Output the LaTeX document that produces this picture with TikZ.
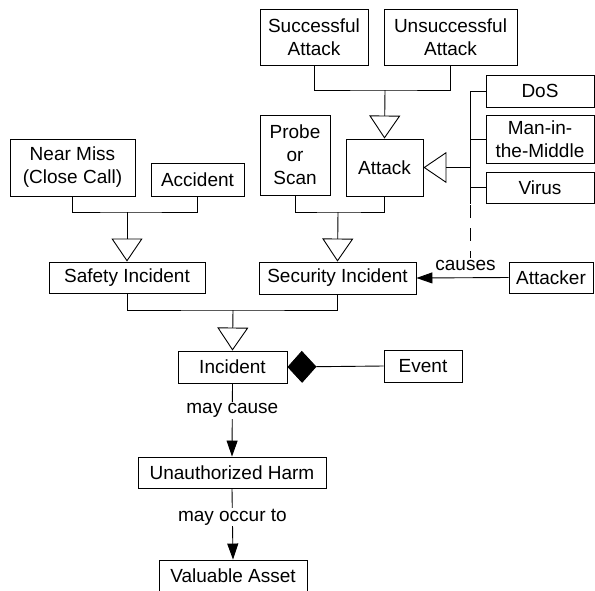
\documentclass[tikz,border=0pt]{standalone}
\usepackage{fontspec}
\setmainfont{Liberation Sans}
\usetikzlibrary{arrows.meta}

\tikzset{
	box/.style={draw, line width=0.9pt, inner sep=0pt, align=center, font=\fontsize{19}{23}\selectfont},
	wire/.style={line width=0.9pt},
	gen/.style={wire, -{Triangle[open, length=23pt, width=31pt, line width=0.9pt]}},
	assoc/.style={wire, -{Triangle[length=16pt, width=11pt]}},
	aggr/.style={wire, -{Diamond[length=29pt, width=32pt]}},
	lbl/.style={fill=white, inner sep=1pt, font=\fontsize{19}{23}\selectfont}
}

\begin{document}
\begin{tikzpicture}[x=1pt, y=-1pt]
			%%%%% START %%%%%
			\useasboundingbox[fill=white] (0, 0) rectangle (595, 590);
			
			% attack kinds
			\node[box, minimum width=108, minimum height=56] (success) at (314, 37) {Successful\\Attack};
			\node[box, minimum width=133, minimum height=56] (unsuccess) at (450.5, 37) {Unsuccessful\\Attack};
			\node[box, minimum width=77, minimum height=57] (attack) at (384.5, 167.5) {Attack};
			\node[box, minimum width=70, minimum height=80] (probe) at (295, 155) {Probe\\or\\Scan};
			
			\node[box, minimum width=108, minimum height=32] (dos) at (540, 91) {DoS};
			\node[box, minimum width=108, minimum height=48] (mitm) at (540, 139) {Man-in-\\the-Middle};
			\node[box, minimum width=108, minimum height=31] (virus) at (540, 187.5) {Virus};
			
			% safety side
			\node[box, minimum width=125, minimum height=57] (nearmiss) at (72.5, 167.5) {Near Miss\\(Close Call)};
			\node[box, minimum width=93, minimum height=33] (accident) at (197.5, 179.5) {Accident};
			
			\node[box, minimum width=156, minimum height=31] (safety) at (127, 277.5) {Safety Incident};
			\node[box, minimum width=157, minimum height=32] (security) at (337.5, 278) {Security Incident};
			\node[box, minimum width=84, minimum height=31] (attacker) at (551, 277.5) {Attacker};
			
			\node[box, minimum width=109, minimum height=32] (incident) at (232.5, 367) {Incident};
			\node[box, minimum width=78, minimum height=32] (event) at (423, 366) {Event};
			\node[box, minimum width=188, minimum height=31] (harm) at (232, 472.5) {Unauthorized Harm};
			\node[box, minimum width=148, minimum height=32] (asset) at (233, 576) {Valuable Asset};
			
			% generalisations
			\coordinate (attackjoin) at (385, 90);
			\draw[wire] (success.south) |- (attackjoin) -| (unsuccess.south);
			\draw[gen] (attackjoin) -- (attack.north);
			
			\coordinate (busT) at (470, 91);
			\coordinate (busB) at (470, 204);
			\draw[wire] (busT) -- (busB);
			\draw[wire] (busT) -- (dos.west);
			\draw[wire] (busT |- mitm.west) -- (mitm.west);
			\draw[wire] (busT |- virus.west) -- (virus.west);
			\draw[gen] (busT |- attack.east) -- (attack.east);
			
			\coordinate (securityjoin) at (338, 212);
			\draw[wire] (probe.south) |- (securityjoin) -| (attack.south);
			\draw[gen] (securityjoin) -- (security.north);
			
			\coordinate (safetyjoin) at (127, 212);
			\draw[wire] (nearmiss.south) |- (safetyjoin) -| (accident.south);
			\draw[gen] (safetyjoin) -- (safety.north);
			
			\coordinate (incidentjoin) at (233, 310);
			\draw[wire] (safety.south) |- (incidentjoin) -| (security.south);
			\draw[gen] (incidentjoin) -- (incident.north);
			
			% associations
			\draw[assoc] (attacker.west) -- node[lbl, above=6pt, xshift=3pt] (causes) {causes} (security.east);
			\draw[wire, dash pattern=on 13pt off 10pt] (busB) ++(0, 1) -- (busB |- causes.north);
			
			\draw[aggr] (event.west) -- (incident.east);
			\draw[assoc] (incident.south) -- node[lbl, pos=0.37] (maycause) {may cause} (harm.north);
			\draw[assoc] (harm.south) -- node[lbl, pos=0.40] (mayoccur) {may occur to} (asset.north);
			%%%%% END %%%%%
\end{tikzpicture}
\end{document}
